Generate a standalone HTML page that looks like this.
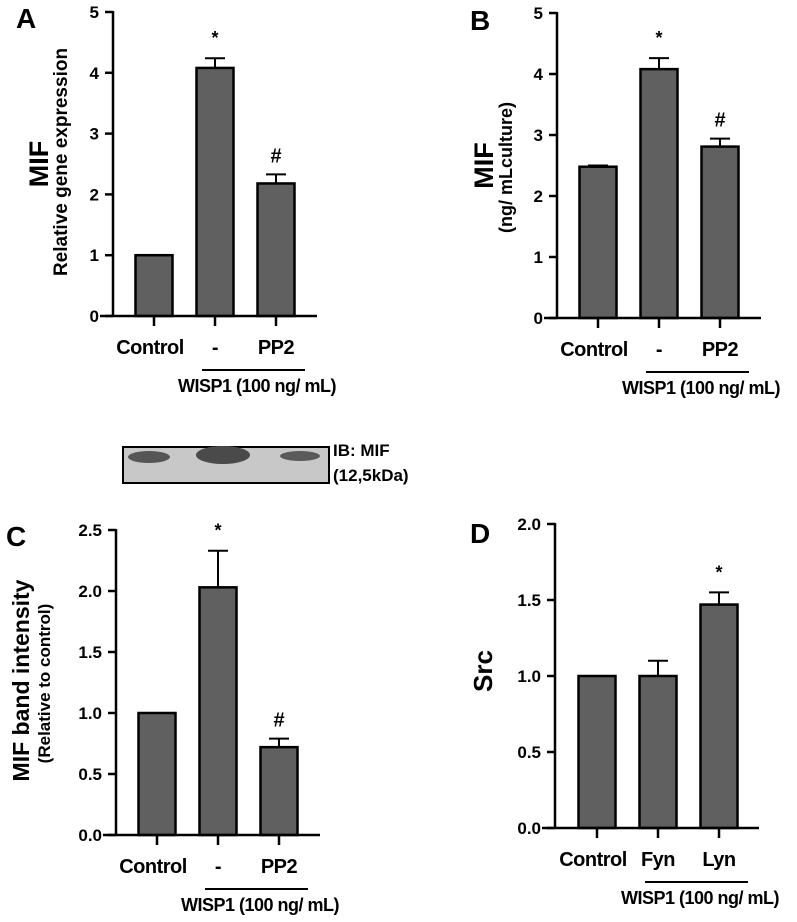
<!DOCTYPE html>
<html><head><meta charset="utf-8"><style>
html,body{margin:0;padding:0;background:#fff;}
svg{display:block;font-family:"Liberation Sans",Arial,sans-serif;font-weight:bold;}
</style></head><body>
<svg id="fig" width="797" height="922" viewBox="0 0 797 922" xmlns="http://www.w3.org/2000/svg">
  <g>
    <rect x="123" y="447" width="206" height="36" fill="#c8c8c8" stroke="#000" stroke-width="2"/>
    <ellipse cx="149" cy="457" rx="21" ry="6" fill="#555"/>
    <ellipse cx="223" cy="455" rx="27" ry="9" fill="#4a4a4a"/>
    <ellipse cx="300" cy="456" rx="20" ry="5" fill="#5a5a5a"/>
    <text x="333" y="456" font-size="17">IB: MIF</text>
    <text x="333" y="481" font-size="17">(12,5kDa)</text>
  </g>
</svg>
<script>
// Panel A
const catsA = ["Control","-","PP2"];
const valsA = [1.0, 4.08, 2.18];
const errA = [0, 0.16, 0.15];
const marksA = ["", "*", "#"];
const ticksA = [0,1,2,3,4,5];
const tickLabelsA = ["0","1","2","3","4","5"];
// Panel B
const catsB = ["Control","-","PP2"];
const valsB = [2.48, 4.08, 2.81];
const errB = [0.02, 0.18, 0.13];
const marksB = ["", "*", "#"];
const ticksB = [0,1,2,3,4,5];
const tickLabelsB = ["0","1","2","3","4","5"];
// Panel C
const catsC = ["Control","-","PP2"];
const valsC = [1.0, 2.03, 0.72];
const errC = [0, 0.30, 0.07];
const marksC = ["", "*", "#"];
const ticksC = [0,0.5,1,1.5,2,2.5];
const tickLabelsC = ["0.0","0.5","1.0","1.5","2.0","2.5"];
// Panel D
const catsD = ["Control","Fyn","Lyn"];
const valsD = [1.0, 1.0, 1.47];
const errD = [0, 0.10, 0.08];
const marksD = ["", "", "*"];
const ticksD = [0,0.5,1,1.5,2];
const tickLabelsD = ["0.0","0.5","1.0","1.5","2.0"];

const NS = "http://www.w3.org/2000/svg";
const svg = document.getElementById('fig');
function mk(tag, attrs, parent, txt){
  const e = document.createElementNS(NS, tag);
  for (const k in attrs) e.setAttribute(k, attrs[k]);
  if (txt !== undefined) e.textContent = txt;
  parent.appendChild(e);
  return e;
}
function panel(p){
  const g = mk('g', {}, svg);
  
  
  const ymax = p.ticks[p.ticks.length-1];
  const y = v => p.y0 - (p.y0 - p.yTop) * v / ymax;
  const xc = i => p.x0 + p.first + i * p.step;
  const L = mk('text', {x:p.letterX, y:p.letterY, 'font-size':28}, g, p.id.toUpperCase());
  
  
  p.vals.forEach((v,i)=>{
    const bw = 37;
    const r = mk('rect', {x:xc(i)-bw/2, y:y(v), width:bw, height:p.y0-y(v), fill:'#606060', stroke:'#000', 'stroke-width':2.5}, g);
    
    
    if (p.err[i] > 0){
      const eb = mk('path', {d:`M${xc(i)},${y(v)} V${y(v+p.err[i])} M${xc(i)-10},${y(v+p.err[i])} H${xc(i)+10}`, stroke:'#000', 'stroke-width':2, fill:'none'}, g);
      
      
    }
    if (p.marks[i]){
      const star = p.marks[i] === '*';
      const m = mk('text', {x:xc(i), y:y(v+p.err[i]) - (star ? 14 : 12), 'text-anchor':'middle', 'font-size': star ? 18 : 20}, g, p.marks[i]);
      
      
    }
    const tk = mk('line', {x1:xc(i), x2:xc(i), y1:p.y0, y2:p.y0+10, stroke:'#000', 'stroke-width':2.5}, g);
    
    
    const cx = (i===0) ? xc(i)-4 : xc(i);
    const t = mk('text', {x:cx, y:p.y0+38, 'text-anchor':'middle', 'font-size':20, 'letter-spacing':'-0.5'}, g, p.cats[i]);
    
    
  });
  const ya = mk('line', {x1:p.x0, x2:p.x0, y1:p.yTop-1, y2:p.y0+1, stroke:'#000', 'stroke-width':2.5}, g);
  
  
  const xa = mk('line', {x1:p.x0-13, x2:p.x0+204, y1:p.y0, y2:p.y0, stroke:'#000', 'stroke-width':2.5}, g);
  
  
  p.ticks.forEach((tv,i)=>{
    const l = mk('line', {x1:p.x0-8, x2:p.x0, y1:y(tv), y2:y(tv), stroke:'#000', 'stroke-width':2.5}, g);
    
    
    const t = mk('text', {x:p.x0-14, y:y(tv)+6, 'text-anchor':'end', 'font-size':17}, g, p.tickLabels[i]);
    
    
  });
  const wl = mk('line', {x1:xc(1)-13, x2:xc(2)+29, y1:p.y0+54, y2:p.y0+54, stroke:'#000', 'stroke-width':2}, g);
  
  
  const wt = mk('text', {x:xc(2)-19, y:p.y0+76, 'text-anchor':'middle', 'font-size':18, 'letter-spacing':'-0.5'}, g, 'WISP1 (100 ng/ mL)');
  
  
  const cy = (p.y0 + p.yTop)/2;
  p.titles.forEach(tt=>{
    const t = mk('text', {x:tt.x, y:cy + (tt.dy||0), 'text-anchor':'middle', 'font-size':tt.size, transform:`rotate(-90 ${tt.x} ${cy + (tt.dy||0)})`}, g, tt.text);
    
    
  });
}
panel({id:'a', x0:113, y0:316, yTop:12, first:41, step:61, cats:catsA, vals:valsA, err:errA, marks:marksA, ticks:ticksA, tickLabels:tickLabelsA, letterX:16, letterY:28,
  titles:[{x:48, text:'MIF', size:27, name:'y-axis-title', dy:0},{x:67, text:'Relative gene expression', size:19, name:'y-axis-subtitle', dy:-2}]});
panel({id:'b', x0:557, y0:318, yTop:13, first:41, step:61, cats:catsB, vals:valsB, err:errB, marks:marksB, ticks:ticksB, tickLabels:tickLabelsB, letterX:470, letterY:30,
  titles:[{x:493, text:'MIF', size:27, name:'y-axis-title', dy:0},{x:512, text:'(ng/ mLculture)', size:18, name:'y-axis-subtitle', dy:2}]});
panel({id:'c', x0:116, y0:835, yTop:530, first:41, step:61, cats:catsC, vals:valsC, err:errC, marks:marksC, ticks:ticksC, tickLabels:tickLabelsC, letterX:6, letterY:546,
  titles:[{x:29, text:'MIF band intensity', size:23, name:'y-axis-title', dy:-2},{x:50, text:'(Relative to control)', size:17, name:'y-axis-subtitle', dy:1}]});
panel({id:'d', x0:555, y0:828, yTop:524, first:42, step:61, cats:catsD, vals:valsD, err:errD, marks:marksD, ticks:ticksD, tickLabels:tickLabelsD, letterX:470, letterY:543,
  titles:[{x:492, text:'Src', size:26, name:'y-axis-title', dy:-5}]});
</script>
</body></html>
